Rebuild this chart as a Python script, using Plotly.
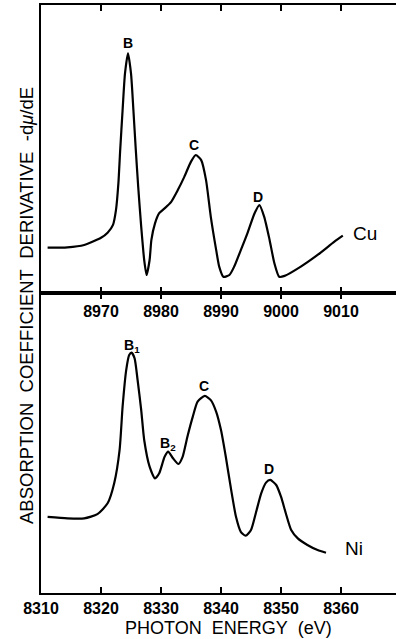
import plotly.graph_objects as go

# Cu K-edge derivative spectrum (photon energy eV, arbitrary units)
cu_energy = [8961.1, 8964.4, 8967.2, 8970.0, 8971.1, 8972.0, 8972.5, 8972.9, 8973.2, 8973.6,
             8974.0, 8974.5, 8975.0, 8975.4, 8975.8, 8976.2, 8976.7, 8977.2, 8977.6, 8978.1,
             8978.4, 8979.0, 8979.7, 8980.6, 8981.7, 8982.8, 8983.9, 8985.0, 8985.8, 8986.7,
             8987.5, 8988.3, 8989.2, 8989.7, 8990.4, 8991.4, 8992.2, 8993.3, 8994.4, 8995.6,
             8996.4, 8997.2, 8998.1, 8998.9, 8999.7, 9000.6, 9003.3, 9006.1, 9008.9, 9010.3]
cu_deriv = [15.1, 15.2, 16.0, 18.4, 20.1, 22.7, 27.7, 36.6, 47.7, 61.0,
            73.2, 79.9, 73.2, 61.0, 47.7, 35.4, 22.1, 11.0, 6.0, 11.0,
            17.7, 23.2, 26.6, 28.2, 30.4, 34.3, 38.8, 43.8, 46.0, 44.3,
            37.7, 25.4, 14.3, 8.8, 5.4, 6.0, 8.8, 14.3, 19.9, 26.6,
            29.3, 25.4, 17.7, 9.9, 5.4, 5.7, 8.8, 12.7, 17.1, 19.1]

# Ni K-edge derivative spectrum
ni_energy = [8311.1, 8314.4, 8317.2, 8319.4, 8321.1, 8322.2, 8323.1, 8323.6, 8324.2, 8324.7,
             8325.1, 8325.6, 8326.1, 8326.7, 8327.2, 8328.1, 8329.0, 8329.7, 8330.6, 8331.2,
             8332.0, 8332.9, 8333.6, 8334.4, 8335.3, 8336.1, 8337.3, 8338.3, 8339.2, 8340.0,
             8340.8, 8341.7, 8342.5, 8343.3, 8344.1, 8345.0, 8345.8, 8346.7, 8347.5, 8348.2,
             8349.2, 8350.0, 8350.8, 8351.7, 8352.8, 8354.4, 8356.1, 8357.5]
ni_deriv = [25.4, 24.9, 24.9, 26.3, 29.9, 36.6, 47.7, 62.1, 74.3, 79.3,
            80.1, 78.2, 71.0, 61.0, 51.0, 42.1, 38.2, 39.9, 45.4, 47.1,
            44.9, 43.0, 45.4, 52.1, 58.8, 63.8, 65.7, 64.3, 60.4, 54.3,
            45.4, 34.3, 25.4, 20.4, 19.1, 21.0, 26.6, 33.2, 36.8, 37.7,
            36.0, 32.1, 26.6, 21.0, 18.2, 16.0, 14.3, 13.4]

cu_ticks = [8970, 8980, 8990, 9000, 9010]
ni_ticks = [8310, 8320, 8330, 8340, 8350, 8360]

cu_peak_labels = ["B", "C", "D"]
cu_peak_x = [8974.5, 8985.5, 8996.2]
cu_peak_y = [83.3, 49.3, 32.0]

ni_peak_labels = ["B<sub>1</sub>", "B<sub>2</sub>", "C", "D"]
ni_peak_x = [8325.2, 8331.2, 8337.2, 8348.0]
ni_peak_y = [82.5, 49.8, 69.0, 41.3]

FONT = "Liberation Sans, Arial, sans-serif"

fig = go.Figure()
fig.add_trace(go.Scatter(x=cu_energy, y=cu_deriv, mode="lines", xaxis="x2", yaxis="y2",
                         line=dict(color="black", width=2.2, shape="spline", smoothing=0.6),
                         hoverinfo="skip", showlegend=False))
fig.add_trace(go.Scatter(x=ni_energy, y=ni_deriv, mode="lines", xaxis="x", yaxis="y",
                         line=dict(color="black", width=2.2, shape="spline", smoothing=0.6),
                         hoverinfo="skip", showlegend=False))

annotations = []
for t, x, y in zip(cu_peak_labels, cu_peak_x, cu_peak_y):
    annotations.append(dict(text="<b>%s</b>" % t, x=x, y=y, xref="x2", yref="y2", showarrow=False,
                            font=dict(size=14, color="black", family=FONT)))
for t, x, y in zip(ni_peak_labels, ni_peak_x, ni_peak_y):
    annotations.append(dict(text="<b>%s</b>" % t, x=x, y=y, xref="x", yref="y", showarrow=False,
                            font=dict(size=14, color="black", family=FONT)))
annotations.append(dict(text="Cu", x=9011.6, y=20, xref="x2", yref="y2", showarrow=False,
                        xanchor="left", font=dict(size=19, color="black", family=FONT)))
annotations.append(dict(text="Ni", x=8360.4, y=15, xref="x", yref="y", showarrow=False,
                        xanchor="left", font=dict(size=19, color="black", family=FONT)))
annotations.append(dict(text="ABSORPTION\u00a0\u00a0COEFFICIENT\u00a0\u00a0DERIVATIVE\u00a0\u00a0-d<i>\u03bc</i>/dE",
                        x=26, y=306, xref="paper", yref="paper", showarrow=False, textangle=-90,
                        xanchor="center", yanchor="middle",
                        font=dict(size=18.5, color="black", family="Liberation Sans Narrow, Arial Narrow, sans-serif")))
annotations.append(dict(text="PHOTON\u00a0\u00a0ENERGY\u00a0\u00a0(eV)", x=228, y=628,
                        xref="paper", yref="paper", showarrow=False,
                        xanchor="center", yanchor="middle",
                        font=dict(size=18, color="black", family=FONT)))

# convert pixel-positioned annotations to paper coordinates
W, H = 396, 639
L, R, T, B = 41, 0, 5, 46
for a in annotations:
    if a["xref"] == "paper":
        a["x"] = (a["x"] - L) / (W - L - R)
        a["y"] = (H - B - a["y"]) / (H - T - B)

split = 300 / 588

axis_common = dict(showline=True, linecolor="black", linewidth=2, showgrid=False, zeroline=False,
                   ticks="inside", ticklen=6, tickwidth=2, tickcolor="black", mirror="ticks",
                   tickfont=dict(size=16, color="black", family="Liberation Sans, Arial, sans-serif",
                                 weight="bold"))

fig.update_layout(
    width=W, height=H,
    margin=dict(l=L, r=R, t=T, b=B),
    paper_bgcolor="white", plot_bgcolor="white",
    xaxis=dict(axis_common, domain=[0, 1], range=[8310, 8310 + 355 / 6], anchor="y",
               tickvals=ni_ticks, ticktext=[str(v) for v in ni_ticks], ticklabelstandoff=0),
    yaxis=dict(domain=[0, split], range=[0, 100], showline=True, linecolor="black", linewidth=2,
               showgrid=False, zeroline=False, showticklabels=False, ticks="", anchor="x"),
    xaxis2=dict(axis_common, domain=[0, 1], range=[8960, 8960 + 355 / 6], anchor="y2",
                tickvals=cu_ticks, ticktext=[str(v) for v in cu_ticks], ticklabelstandoff=3),
    yaxis2=dict(domain=[split, 1], range=[0, 96], showline=True, linecolor="black", linewidth=2,
                showgrid=False, zeroline=False, showticklabels=False, ticks="", anchor="x2"),
    annotations=annotations,
)

fig.write_html("out.html")
